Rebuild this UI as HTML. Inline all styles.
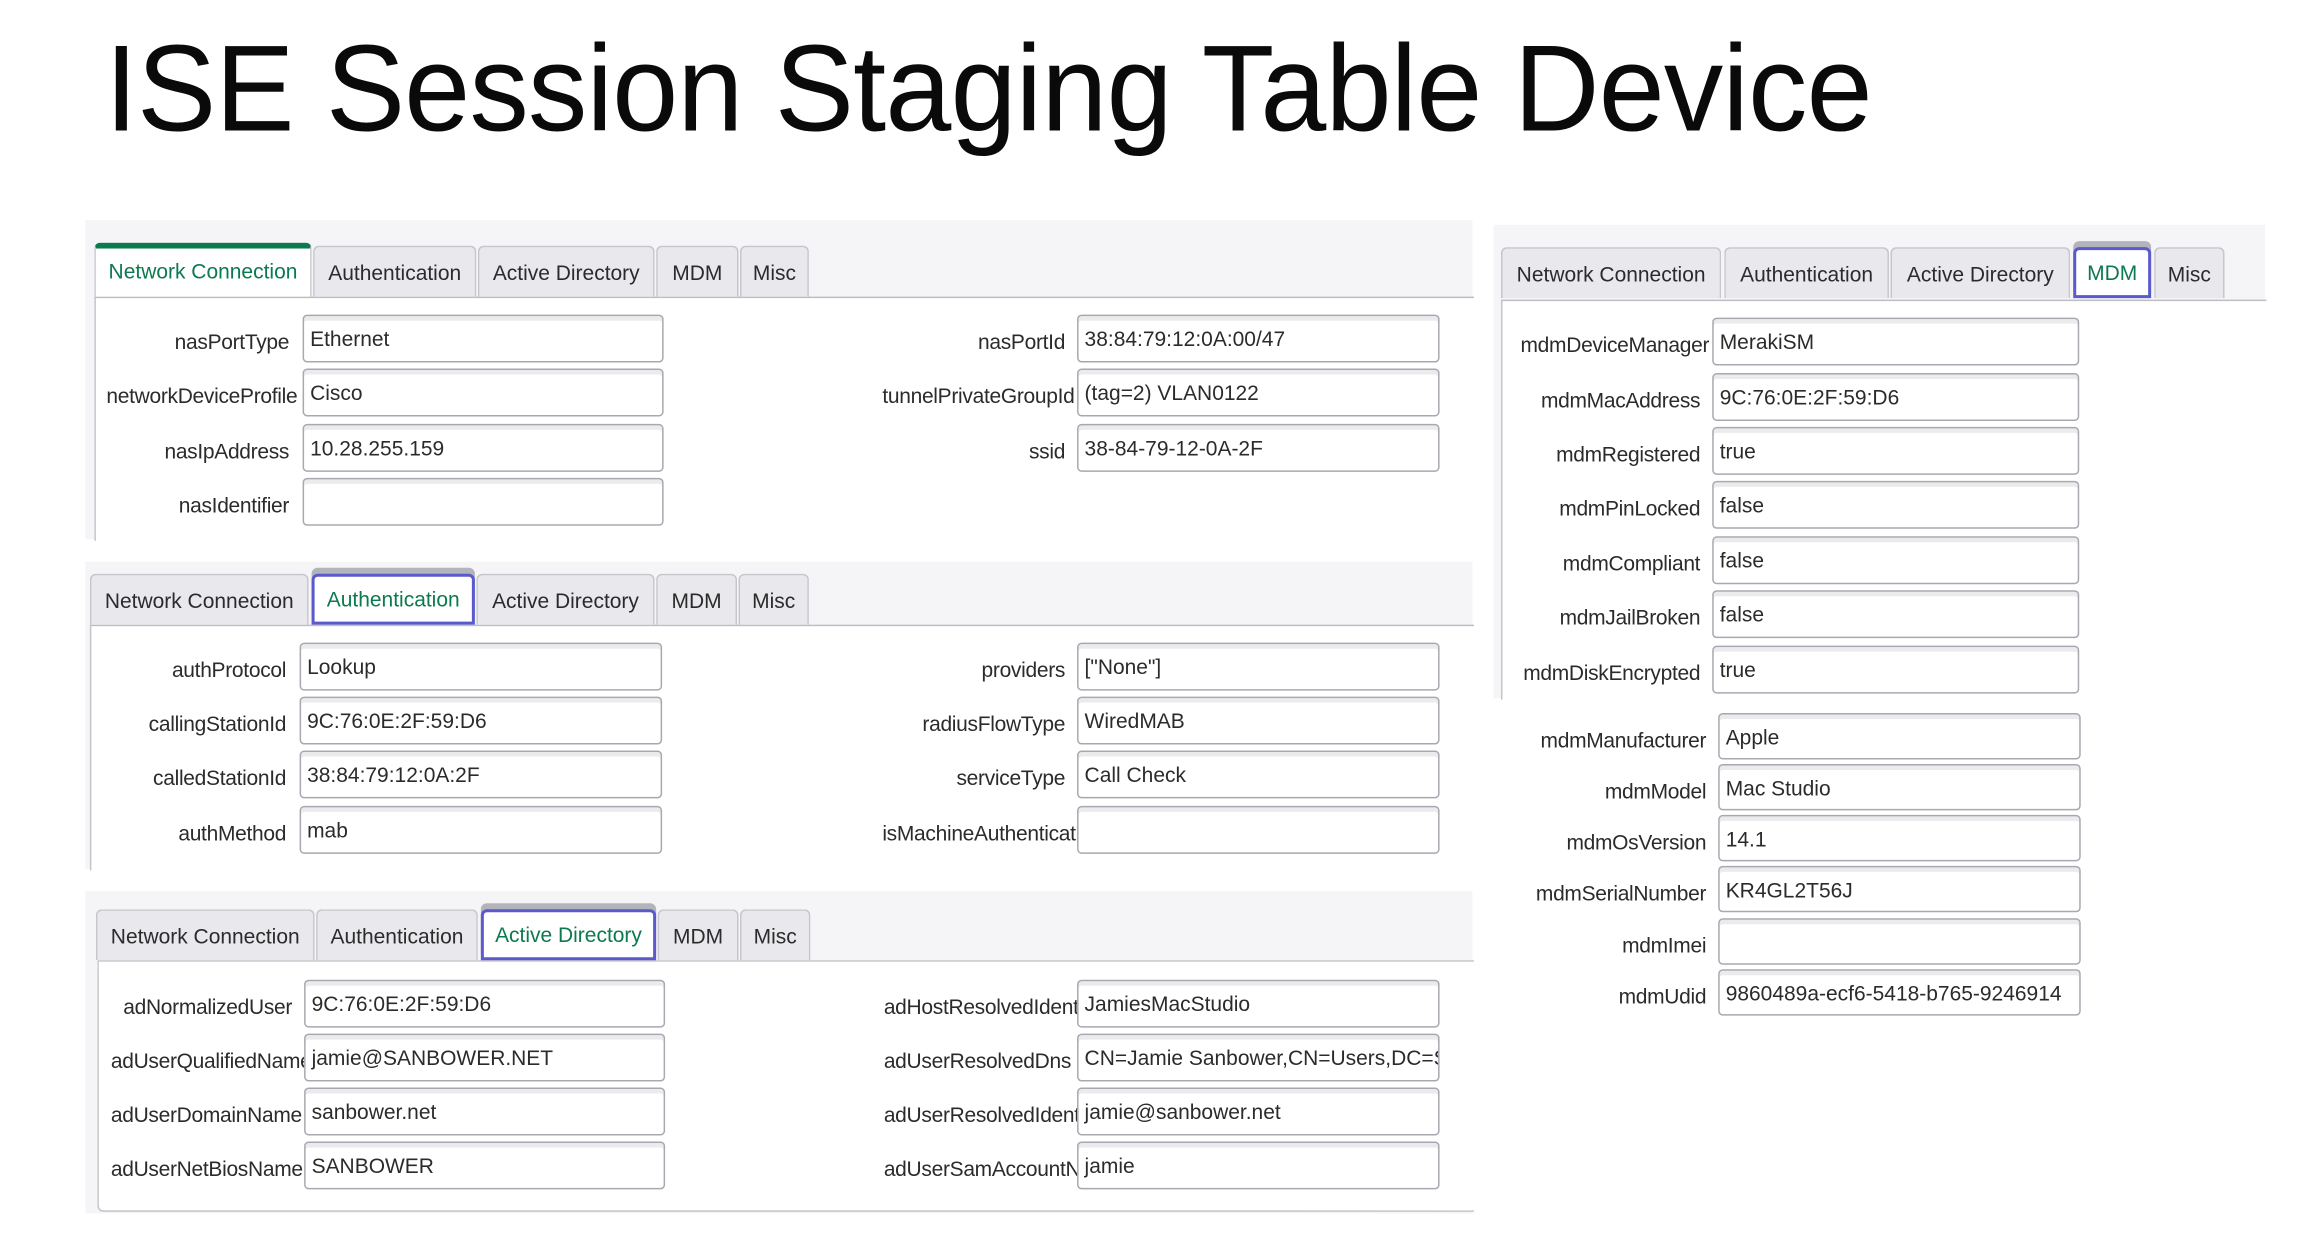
<!DOCTYPE html>
<html><head><meta charset="utf-8">
<style>
html,body{margin:0;padding:0;background:#fff;}
body{width:2322px;height:1236px;overflow:hidden;position:relative;}
#w{position:absolute;left:0;top:0;width:1550px;height:825px;transform:scale(1.498);transform-origin:0 0;font-family:"Liberation Sans",sans-serif;color:#2b2b2b;}
.a{position:absolute;}
.title{left:70px;top:13px;font-size:82px;color:#0a0a0a;white-space:nowrap;transform:scaleX(0.965);transform-origin:0 0;letter-spacing:-0.5px;}
.gray{background:#f5f5f7;}
.content{background:#fff;border-left:1px solid #c4c4ca;border-top:1px solid #bdbdc4;}
.tab{position:absolute;height:34px;line-height:34px;text-align:center;font-size:14px;background:#e9e9ed;border:1px solid #c6c6cc;border-bottom:none;border-radius:4px 4px 0 0;box-sizing:border-box;color:#2b2b2b;white-space:nowrap;}
.tg{background:#fff;color:#0b7a4f;border-top:4px solid #0b7a4f;line-height:30px;height:36px;}
.tb{background:#fff;color:#0b7a4f;border:2px solid #5a5acc;box-shadow:0 -4px 0 #b3b3bb;line-height:30px;}
.in{position:absolute;height:32px;box-sizing:border-box;border:1px solid #a8a8b0;border-radius:3px;background:#fff;box-shadow:inset 0 3px 0 #ebebed;font-size:14px;line-height:30px;padding-left:4px;white-space:nowrap;overflow:hidden;color:#2b2b2b;}
.lb{position:absolute;height:32px;line-height:36px;font-size:14px;text-align:right;white-space:nowrap;overflow:hidden;color:#2b2b2b;letter-spacing:-0.2px;}
.cl{text-align:left;}
</style></head><body><div id="w">
<div class="a title">ISE Session Staging Table Device</div>

<div class="a gray" style="left:57px;top:147px;width:926px;height:213px;"></div>
<div class="a content" style="left:63px;top:198px;width:920px;height:162px;"></div>
<div class="tab tg" style="left:63px;top:162px;width:145px;">Network Connection</div>
<div class="tab" style="left:209px;top:164px;width:109px;">Authentication</div>
<div class="tab" style="left:319px;top:164px;width:118px;">Active Directory</div>
<div class="tab" style="left:438px;top:164px;width:55px;">MDM</div>
<div class="tab" style="left:494px;top:164px;width:46px;">Misc</div>

<div class="lb" style="left:66px;top:210px;width:127px;">nasPortType</div><div class="in" style="left:202px;top:210px;width:241px;">Ethernet</div>
<div class="lb cl" style="left:71px;top:246px;width:131px;">networkDeviceProfile</div><div class="in" style="left:202px;top:246px;width:241px;">Cisco</div>
<div class="lb" style="left:66px;top:283px;width:127px;">nasIpAddress</div><div class="in" style="left:202px;top:283px;width:241px;">10.28.255.159</div>
<div class="lb" style="left:66px;top:319px;width:127px;">nasIdentifier</div><div class="in" style="left:202px;top:319px;width:241px;"></div>

<div class="lb" style="left:560px;top:210px;width:151px;">nasPortId</div><div class="in" style="left:719px;top:210px;width:242px;">38:84:79:12:0A:00/47</div>
<div class="lb cl" style="left:589px;top:246px;width:130px;">tunnelPrivateGroupId</div><div class="in" style="left:719px;top:246px;width:242px;">(tag=2) VLAN0122</div>
<div class="lb" style="left:560px;top:283px;width:151px;">ssid</div><div class="in" style="left:719px;top:283px;width:242px;">38-84-79-12-0A-2F</div>

<div class="a gray" style="left:57px;top:375px;width:926px;height:205px;"></div>
<div class="a content" style="left:60px;top:417px;width:923px;height:163px;"></div>
<div class="tab" style="left:60px;top:383px;width:146px;">Network Connection</div>
<div class="tab tb" style="left:208px;top:383px;width:109px;">Authentication</div>
<div class="tab" style="left:318px;top:383px;width:119px;">Active Directory</div>
<div class="tab" style="left:438px;top:383px;width:54px;">MDM</div>
<div class="tab" style="left:493px;top:383px;width:47px;">Misc</div>

<div class="lb" style="left:64px;top:429px;width:127px;">authProtocol</div><div class="in" style="left:200px;top:429px;width:242px;">Lookup</div>
<div class="lb" style="left:64px;top:465px;width:127px;">callingStationId</div><div class="in" style="left:200px;top:465px;width:242px;">9C:76:0E:2F:59:D6</div>
<div class="lb" style="left:64px;top:501px;width:127px;">calledStationId</div><div class="in" style="left:200px;top:501px;width:242px;">38:84:79:12:0A:2F</div>
<div class="lb" style="left:64px;top:538px;width:127px;">authMethod</div><div class="in" style="left:200px;top:538px;width:242px;">mab</div>

<div class="lb" style="left:560px;top:429px;width:151px;">providers</div><div class="in" style="left:719px;top:429px;width:242px;">["None"]</div>
<div class="lb" style="left:560px;top:465px;width:151px;">radiusFlowType</div><div class="in" style="left:719px;top:465px;width:242px;">WiredMAB</div>
<div class="lb" style="left:560px;top:501px;width:151px;">serviceType</div><div class="in" style="left:719px;top:501px;width:242px;">Call Check</div>
<div class="lb cl" style="left:589px;top:538px;width:130px;">isMachineAuthentication</div><div class="in" style="left:719px;top:538px;width:242px;"></div>

<div class="a gray" style="left:57px;top:595px;width:926px;height:215px;"></div>
<div class="a content" style="left:65px;top:641px;width:918px;height:166px;border-bottom:1px solid #bdbdc4;border-bottom-left-radius:4px;"></div>
<div class="tab" style="left:64px;top:607px;width:146px;">Network Connection</div>
<div class="tab" style="left:211px;top:607px;width:108px;">Authentication</div>
<div class="tab tb" style="left:321px;top:607px;width:117px;">Active Directory</div>
<div class="tab" style="left:439px;top:607px;width:54px;">MDM</div>
<div class="tab" style="left:494px;top:607px;width:47px;">Misc</div>

<div class="lb" style="left:70px;top:654px;width:125px;">adNormalizedUser</div><div class="in" style="left:203px;top:654px;width:241px;">9C:76:0E:2F:59:D6</div>
<div class="lb cl" style="left:74px;top:690px;width:129px;">adUserQualifiedName</div><div class="in" style="left:203px;top:690px;width:241px;">jamie@SANBOWER.NET</div>
<div class="lb cl" style="left:74px;top:726px;width:129px;">adUserDomainName</div><div class="in" style="left:203px;top:726px;width:241px;">sanbower.net</div>
<div class="lb cl" style="left:74px;top:762px;width:129px;">adUserNetBiosName</div><div class="in" style="left:203px;top:762px;width:241px;">SANBOWER</div>

<div class="lb cl" style="left:590px;top:654px;width:129px;">adHostResolvedIdentities</div><div class="in" style="left:719px;top:654px;width:242px;">JamiesMacStudio</div>
<div class="lb cl" style="left:590px;top:690px;width:129px;">adUserResolvedDns</div><div class="in" style="left:719px;top:690px;width:242px;">CN=Jamie Sanbower,CN=Users,DC=S</div>
<div class="lb cl" style="left:590px;top:726px;width:129px;">adUserResolvedIdentities</div><div class="in" style="left:719px;top:726px;width:242px;">jamie@sanbower.net</div>
<div class="lb cl" style="left:590px;top:762px;width:129px;">adUserSamAccountName</div><div class="in" style="left:719px;top:762px;width:242px;">jamie</div>

<div class="a gray" style="left:997px;top:150px;width:515px;height:316px;"></div>
<div class="a content" style="left:1002px;top:200px;width:510px;height:266px;"></div>
<div class="tab" style="left:1002px;top:165px;width:147px;">Network Connection</div>
<div class="tab" style="left:1151px;top:165px;width:110px;">Authentication</div>
<div class="tab" style="left:1262px;top:165px;width:120px;">Active Directory</div>
<div class="tab tb" style="left:1384px;top:165px;width:52px;">MDM</div>
<div class="tab" style="left:1438px;top:165px;width:47px;">Misc</div>

<div class="lb" style="left:1005px;top:212px;width:136px;">mdmDeviceManager</div><div class="in" style="left:1143px;top:212px;width:245px;">MerakiSM</div>
<div class="lb" style="left:1005px;top:249px;width:130px;">mdmMacAddress</div><div class="in" style="left:1143px;top:249px;width:245px;">9C:76:0E:2F:59:D6</div>
<div class="lb" style="left:1005px;top:285px;width:130px;">mdmRegistered</div><div class="in" style="left:1143px;top:285px;width:245px;">true</div>
<div class="lb" style="left:1005px;top:321px;width:130px;">mdmPinLocked</div><div class="in" style="left:1143px;top:321px;width:245px;">false</div>
<div class="lb" style="left:1005px;top:358px;width:130px;">mdmCompliant</div><div class="in" style="left:1143px;top:358px;width:245px;">false</div>
<div class="lb" style="left:1005px;top:394px;width:130px;">mdmJailBroken</div><div class="in" style="left:1143px;top:394px;width:245px;">false</div>
<div class="lb" style="left:1005px;top:431px;width:130px;">mdmDiskEncrypted</div><div class="in" style="left:1143px;top:431px;width:245px;">true</div>

<div class="lb" style="left:1005px;top:476px;width:134px;">mdmManufacturer</div><div class="in" style="left:1147px;top:476px;width:242px;height:31px;">Apple</div>
<div class="lb" style="left:1005px;top:510px;width:134px;">mdmModel</div><div class="in" style="left:1147px;top:510px;width:242px;height:31px;">Mac Studio</div>
<div class="lb" style="left:1005px;top:544px;width:134px;">mdmOsVersion</div><div class="in" style="left:1147px;top:544px;width:242px;height:31px;">14.1</div>
<div class="lb" style="left:1005px;top:578px;width:134px;">mdmSerialNumber</div><div class="in" style="left:1147px;top:578px;width:242px;height:31px;">KR4GL2T56J</div>
<div class="lb" style="left:1005px;top:613px;width:134px;">mdmImei</div><div class="in" style="left:1147px;top:613px;width:242px;height:31px;"></div>
<div class="lb" style="left:1005px;top:647px;width:134px;">mdmUdid</div><div class="in" style="left:1147px;top:647px;width:242px;height:31px;">9860489a-ecf6-5418-b765-9246914</div>
</div></body></html>
